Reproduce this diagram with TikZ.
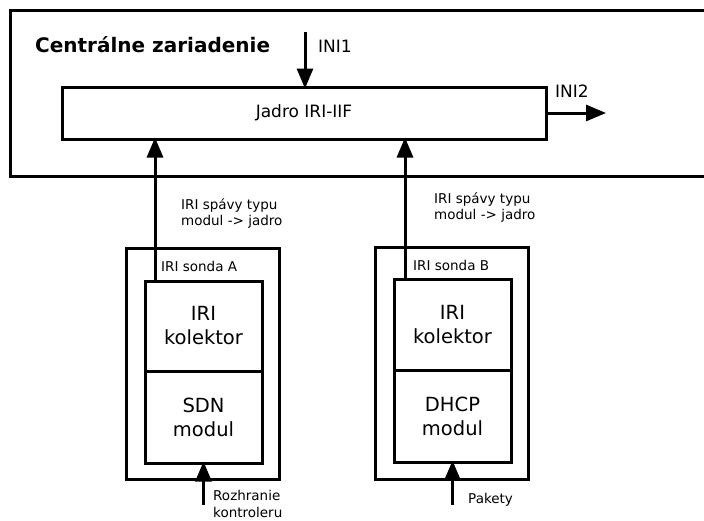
\documentclass[tikz,border=0pt]{standalone}
\usepackage{fontspec}
\setmainfont{DejaVu Sans}
\usetikzlibrary{arrows.meta,calc}
\begin{document}
\begin{tikzpicture}[x=1pt,y=-1pt,
  box/.style={draw,line width=3pt,inner sep=0pt,outer sep=0pt},
  arr/.style={line width=3pt,-{Triangle[length=20pt,width=16pt]}},
  small/.style={font=\fontsize{13.5}{17}\selectfont,inner sep=0pt,align=left},
  big/.style={font=\fontsize{19.5}{24}\selectfont,align=center},
  mid/.style={font=\fontsize{17}{20}\selectfont,inner sep=0pt}]
\useasboundingbox (0,0) rectangle (704,520);
% central device
\draw[line width=3pt] (720,10) -- (10,10) -- (10,176) -- (720,176);
\node[font=\fontsize{20}{24}\selectfont\bfseries,anchor=base west,inner sep=0pt] (cz) at (35,52) {Centrálne zariadenie};
\node[box,minimum width=484pt,minimum height=52pt,font=\fontsize{17}{20}\selectfont] (jadro) at (304,113) {Jadro IRI-IIF};
% INI1
\coordinate (ini1s) at (305,32);
\draw[arr] (ini1s) -- ([yshift=-1.5pt]ini1s |- jadro.north);
\node[mid,anchor=base west] (ini1) at (318,52) {INI1};
% INI2
\coordinate (ini2e) at (606,113);
\draw[arr] ([xshift=1.5pt]jadro.east) -- (ini2e);
\node[mid,anchor=base west] (ini2) at (555,97) {INI2};
% probe A
\draw[box] (126,248) rectangle (279,479);
\node[box,minimum width=117pt,minimum height=90pt,big] (kolA) at (203.5,326) {IRI\\kolektor};
\node[box,minimum width=117pt,minimum height=92pt,big,anchor=north] (modA) at (kolA.south) {SDN\\modul};
\node[small,anchor=base west] (sA) at (161,271) {IRI sonda A};
% probe B
\draw[box] (375,247) rectangle (528,479);
\node[box,minimum width=117pt,minimum height=91pt,big] (kolB) at (452.5,324.5) {IRI\\kolektor};
\node[box,minimum width=117pt,minimum height=92pt,big,anchor=north] (modB) at (kolB.south) {DHCP\\modul};
\node[small,anchor=base west] (sB) at (413,270) {IRI sonda B};
% arrows to core
\coordinate (aA) at (155,281);
\draw[arr] (aA) -- ([yshift=1.5pt]aA |- jadro.south);
\coordinate (aB) at (405,279);
\draw[arr] (aB) -- ([yshift=1.5pt]aB |- jadro.south);
\node[small,anchor=base west] (lA1) at (181,209) {IRI spávy typu};
\node[small,anchor=base west] (lA2) at (181,225) {modul -> jadro};
\node[small,anchor=base west] (lB1) at (434,203) {IRI spávy typu};
\node[small,anchor=base west] (lB2) at (434,219) {modul -> jadro};
% inputs
\coordinate (inA) at (203.5,505);
\draw[arr] (inA) -- ([yshift=1.5pt]modA.south);
\coordinate (inB) at (452.5,505);
\draw[arr] (inB) -- ([yshift=1.5pt]modB.south);
\node[small,anchor=base west] (rz1) at (213,500) {Rozhranie};
\node[small,anchor=base west] (rz2) at (213,517) {kontroleru};
\node[small,anchor=base west] (pk) at (468,503) {Pakety};
\end{tikzpicture}
\end{document}
